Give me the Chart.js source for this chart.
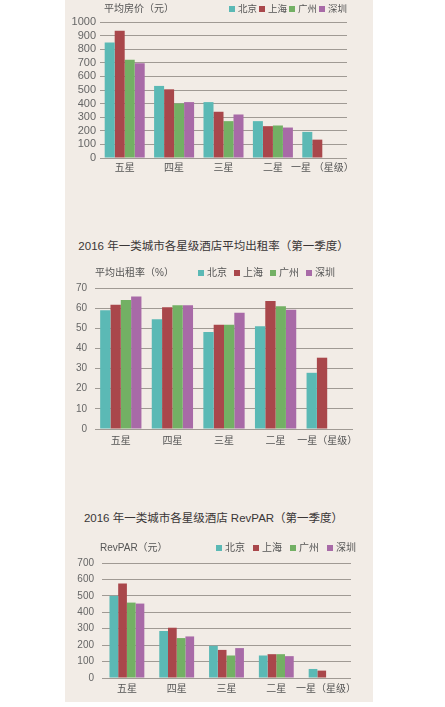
<!DOCTYPE html>
<html>
<head>
<meta charset="utf-8">
<script src="https://cdn.jsdelivr.net/npm/chart.js@4"></script>
<style>
  html, body { margin:0; padding:0; background:#ffffff; }
  body { width:445px; height:707px; position:relative; overflow:hidden; }
  #bg { position:absolute; left:65px; top:0; width:308px; height:702px; background:#f2ece6; }
  .box { position:absolute; left:65px; width:308px; }
  .ttl { position:absolute; left:65px; width:297px; text-align:center; font-family:"Liberation Sans","Noto Sans CJK SC",sans-serif; font-size:11.5px; line-height:16px; color:#3a3636; white-space:nowrap; }
</style>
</head>
<body>
<div id="bg"></div>
<div class="box" style="top:0px;height:180px"><canvas id="c1"></canvas></div>
<div class="ttl" style="top:238px">2016 年一类城市各星级酒店平均出租率（第一季度）</div>
<div class="box" style="top:262px;height:190px"><canvas id="c2"></canvas></div>
<div class="ttl" style="top:510px">2016 年一类城市各星级酒店 RevPAR（第一季度）</div>
<div class="box" style="top:536px;height:166px"><canvas id="c3"></canvas></div>
<script>
const FONT = '"Liberation Sans","Noto Sans CJK SC",sans-serif';

const cities = ['北京', '上海', '广州', '深圳'];
const colors = ['#5bb9b5', '#a9474b', '#73b064', '#a86aa7'];

const starsPrice = ['五星', '四星', '三星', '二星', '一星 （星级）'];
const stars = ['五星', '四星', '三星', '二星', '一星（星级）'];

const priceBJ = [850, 530, 411, 271, 192];
const priceSH = [936, 505, 340, 234, 135];
const priceGZ = [722, 401, 271, 239, null];
const priceSZ = [697, 411, 320, 224, null];

const occBJ = [58.9, 54.5, 48.2, 51.0, 27.9];
const occSH = [61.7, 60.5, 51.7, 63.5, 35.4];
const occGZ = [64.0, 61.4, 51.7, 60.9, null];
const occSZ = [65.8, 61.4, 57.7, 59.2, null];

const revBJ = [500, 286, 196, 137, 55];
const revSH = [575, 306, 171, 145, 45];
const revGZ = [459, 243, 137, 145, null];
const revSZ = [453, 253, 182, 133, null];

const priceTicks = { max: 1000, step: 100 };
const occTicks = { max: 70, step: 10 };
const revTicks = { max: 700, step: 100 };

const legendRow = {
  id: 'legendRow',
  afterDraw(chart, args, o) {
    const ctx = chart.ctx;
    ctx.save();
    ctx.textBaseline = 'middle';
    ctx.textAlign = 'left';
    ctx.font = o.unitSize + 'px ' + FONT;
    ctx.fillStyle = '#555';
    ctx.fillText(o.unit, chart.chartArea.left + o.unitDx, o.y);
    ctx.font = o.size + 'px ' + FONT;
    chart.data.datasets.forEach((ds, i) => {
      const x = o.x + i * o.step;
      ctx.fillStyle = ds.backgroundColor;
      ctx.fillRect(x, o.y - 3, 6, 6);
      ctx.fillStyle = '#555';
      ctx.fillText(ds.label, x + 9, o.y + 0.5);
    });
    ctx.restore();
  }
};

function makeChart(id, labels, series, ticksCfg, cfg) {
  return new Chart(document.getElementById(id), {
    type: 'bar',
    data: {
      labels: labels,
      datasets: series.map((d, i) => ({
        label: cities[i], data: d, backgroundColor: colors[i], borderWidth: 0,
        categoryPercentage: cfg.catPct, barPercentage: 1
      }))
    },
    options: {
      responsive: true, maintainAspectRatio: false, animation: false,
      layout: { padding: cfg.pad },
      plugins: {
        legend: { display: false },
        tooltip: { enabled: false },
        legendRow: cfg.legend
      },
      scales: {
        x: {
          grid: { display: false, drawTicks: false, tickLength: 0 }, border: { display: false },
          ticks: { font: { size: 10, family: FONT }, color: '#555', padding: cfg.xPad, maxRotation: 0, minRotation: 0, autoSkip: false },
          afterFit: s => { s.height = 20; }
        },
        y: {
          min: 0, max: ticksCfg.max,
          ticks: { stepSize: ticksCfg.step, autoSkip: false, font: { size: cfg.yFont, family: FONT }, color: '#666', padding: cfg.yPad,
                   callback: v => String(v) },
          grid: { color: '#a09a94', drawTicks: false, lineWidth: 1 },
          border: { display: false },
          afterFit: s => { s.width = cfg.yW; }
        }
      }
    },
    plugins: [legendRow]
  });
}

makeChart('c1', starsPrice, [priceBJ, priceSH, priceGZ, priceSZ], priceTicks, {
  catPct: 0.81, pad: { left: 0, right: 26, top: 22, bottom: 2 }, xPad: 4, yFont: 11, yPad: 4, yW: 35,
  legend: { unit: '平均房价（元）', unitDx: 4, unitSize: 10, x: 164, step: 30, y: 9, size: 9.5 }
});
makeChart('c2', stars, [occBJ, occSH, occGZ, occSZ], occTicks, {
  catPct: 0.8, pad: { left: 0, right: 20, top: 26, bottom: 3 }, xPad: 6, yFont: 10, yPad: 8, yW: 30,
  legend: { unit: '平均出租率（%）', unitDx: 0, unitSize: 10, x: 133, step: 36, y: 11, size: 10 }
});
makeChart('c3', stars, [revBJ, revSH, revGZ, revSZ], revTicks, {
  catPct: 0.7, pad: { left: 0, right: 22, top: 27, bottom: 4 }, xPad: 5, yFont: 10, yPad: 8, yW: 37,
  legend: { unit: 'RevPAR（元）', unitDx: -2, unitSize: 10, x: 151, step: 37, y: 12, size: 10 }
});
</script>
</body>
</html>
